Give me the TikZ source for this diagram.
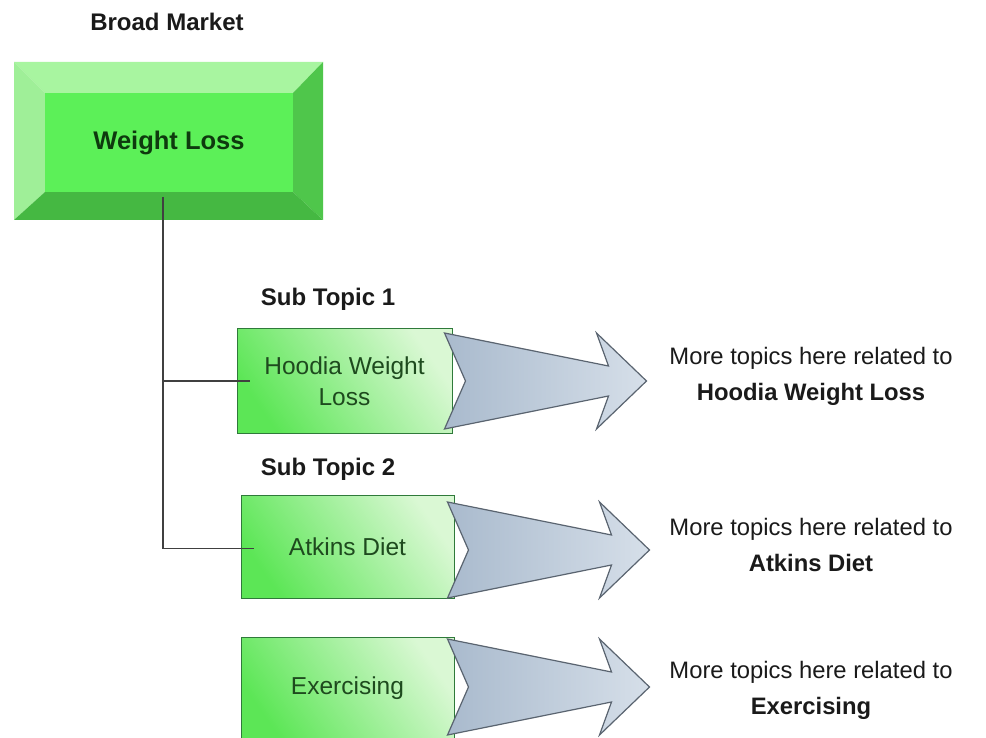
\documentclass[tikz,border=0pt]{standalone}
\usepackage{fontspec}
\setmainfont{Liberation Sans}
\definecolor{bevtop}{HTML}{A8F5A0}
\definecolor{bevleft}{HTML}{9FEF98}
\definecolor{bevright}{HTML}{4FC64B}
\definecolor{bevbot}{HTML}{45B842}
\definecolor{bevin}{HTML}{5CF058}
\definecolor{wltext}{HTML}{0E3A0E}
\definecolor{subsat}{HTML}{5CE656}
\definecolor{submid}{HTML}{8EEE88}
\definecolor{subpale}{HTML}{DAF8D4}
\definecolor{subedge}{HTML}{2F7A3A}
\definecolor{subtext}{HTML}{1E4A1E}
\definecolor{arrdark}{HTML}{A9BACD}
\definecolor{arrlight}{HTML}{D6DFE9}
\definecolor{arredge}{HTML}{5A6470}
\definecolor{conncol}{HTML}{404040}
\definecolor{txt}{HTML}{1A1A1A}
\begin{document}
\begin{tikzpicture}[x=1pt,y=-1pt,
  subbox/.style={draw=subedge, line width=1pt, top color=subsat, middle color=submid, bottom color=subpale,
    shading angle=125, text=subtext, align=center, inner sep=0pt,
    font=\fontsize{24.5}{31}\selectfont},
  conn/.style={draw=conncol, line width=1.4pt},
  headtext/.style={font=\bfseries\fontsize{24}{30}\selectfont, text=txt, inner sep=0pt},
  reltext/.style={align=center, text=txt, inner sep=0pt, font=\fontsize{23.8}{36}\selectfont},
  arrowshape/.style={draw=arredge, line width=1.2pt, left color=arrdark, right color=arrlight, line join=miter},
  pics/bigarrow/.style={code={
    \path[arrowshape] (-8,-48) -- (156,-15) -- (144,-48) -- (194,0) -- (144,48)
       -- (156,15) -- (-8,48) -- (13,0) -- cycle;}}
]
\useasboundingbox (0,0) rectangle (986,738);
\fill[white] (0,0) rectangle (986,738);

% bevel box
\fill[bevtop] (14,62) -- (323,62) -- (293,93) -- (45,93) -- cycle;
\fill[bevleft] (14,62) -- (45,93) -- (45,192) -- (14,220) -- cycle;
\fill[bevright] (323,62) -- (323,220) -- (293,192) -- (293,93) -- cycle;
\fill[bevbot] (14,220) -- (323,220) -- (293,192) -- (45,192) -- cycle;
\node[fill=bevin, minimum width=248pt, minimum height=99pt, inner sep=0pt,
  text=wltext, font=\bfseries\fontsize{25.5}{30}\selectfont] (wl) at (169,142.5) {Weight Loss};

\node[headtext] (bm) at (167,22) {Broad Market};

% sub topic boxes
\node[subbox, minimum width=215pt, minimum height=104pt] (b1) at (344.5,381) {Hoodia Weight\\Loss};
\node[subbox, minimum width=213pt, minimum height=103pt] (b2) at (347.5,546.5) {Atkins Diet};
\node[subbox, minimum width=213pt, minimum height=103pt] (b3) at (347.5,688.5) {Exercising};

\node[headtext] (st1) at (328,299) {Sub Topic 1};
\node[headtext] (st2) at (328,469) {Sub Topic 2};

% connectors
\coordinate (trunk) at (163,197);
\draw[conn] (trunk) |- ([xshift=13pt,yshift=-2pt]b2.west);
\draw[conn] (trunk |- b1.west) -- ([xshift=13pt]b1.west);

% arrows
\pic at (b1.east) {bigarrow};
\pic at ([yshift=-3.5pt,xshift=1pt]b2.east) {bigarrow};
\pic at ([yshift=1.5pt,xshift=1pt]b3.east) {bigarrow};

% related texts
\node[reltext] (r1) at (811,376) {More topics here related to\\\textbf{Hoodia Weight Loss}};
\node[reltext] (r2) at (811,545) {More topics here related to\\\textbf{Atkins Diet}};
\node[reltext] (r3) at (811,690) {More topics here related to\\\textbf{Exercising}};
\end{tikzpicture}
\end{document}
